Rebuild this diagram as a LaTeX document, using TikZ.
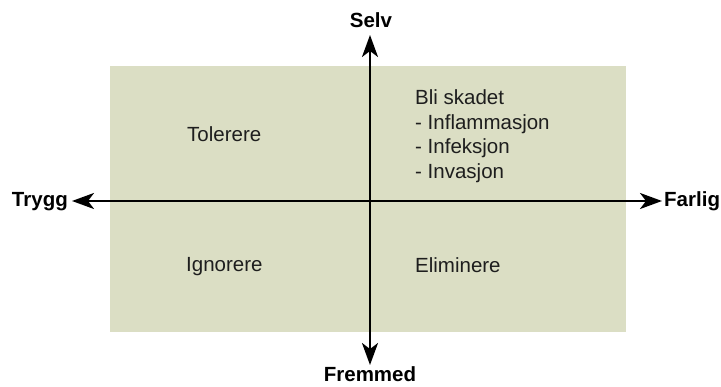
\documentclass[tikz,border=0pt]{standalone}
\usepackage{fontspec}
\setmainfont{Liberation Sans}
\usetikzlibrary{arrows.meta}
\definecolor{quad}{RGB}{219,222,196}
\definecolor{ink}{RGB}{30,30,30}
\begin{document}
\begin{tikzpicture}[x=1pt,y=-1pt,
  axislabel/.style={font=\fontsize{20.5}{24}\selectfont\bfseries, inner sep=0pt},
  quadtext/.style={font=\fontsize{20.5}{24.6}\selectfont, text=ink, inner sep=0pt, anchor=base west},
  axis/.style={line width=2.3pt, {Stealth[length=22pt,width=16pt,inset=6pt]}-{Stealth[length=22pt,width=16pt,inset=6pt]}}]
\useasboundingbox (0,0) rectangle (721,387);
\node[fill=quad, minimum width=516pt, minimum height=266pt, inner sep=0pt, anchor=north west] (bg) at (110,66) {};
\coordinate (tN) at (370,35);
\coordinate (tS) at (370,365);
\coordinate (tW) at (72,201);
\coordinate (tE) at (662,201);
\draw[axis] (tS) -- (tN);
\draw[axis] (tW) -- (tE);
\node[axislabel, anchor=base] (selv) at (371,28) {Selv};
\node[axislabel, anchor=base] (fremmed) at (370,382) {Fremmed};
\node[axislabel, anchor=base east] (trygg) at (68,207) {Trygg};
\node[axislabel, anchor=base west] (farlig) at (664,207) {Farlig};
\node[quadtext] (tol) at (187,142) {Tolerere};
\node[quadtext] (ign) at (186,272) {Ignorere};
\node[quadtext] (elim) at (415,273) {Eliminere};
\node[quadtext] (bli) at (415,105) {Bli skadet};
\node[quadtext] (l1) at (415,129.5) {- Inflammasjon};
\node[quadtext] (l2) at (415,154) {- Infeksjon};
\node[quadtext] (l3) at (415,178.5) {- Invasjon};
\end{tikzpicture}
\end{document}
